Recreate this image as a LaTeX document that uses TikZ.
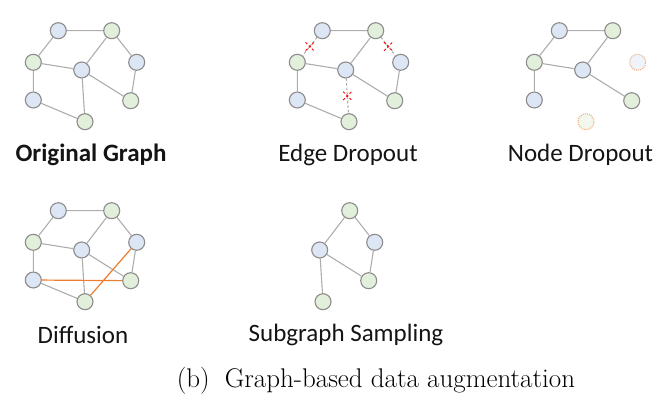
\documentclass[tikz,border=0pt]{standalone}
\usepackage{fontspec}
\newfontfamily\lblfont{Carlito}
\usepackage{tikz}
\usetikzlibrary{shapes.misc}

\definecolor{nodeblue}{HTML}{DCE6F4}
\definecolor{nodegreen}{HTML}{E2EFDA}
\definecolor{ringgray}{HTML}{8C8C8C}
\definecolor{edgegray}{HTML}{ADADAD}
\definecolor{diffuse}{HTML}{ED7D31}
\definecolor{lostring}{HTML}{F4B183}

\tikzset{
  vtx/.style={circle, draw=ringgray, line width=1.1pt, minimum size=16pt, inner sep=0pt},
  bvtx/.style={vtx, fill=nodeblue},
  gvtx/.style={vtx, fill=nodegreen},
  lostb/.style={vtx, draw=lostring, densely dotted, fill=nodeblue!45},
  lostg/.style={vtx, draw=lostring, densely dotted, fill=nodegreen!45},
  link/.style={draw=edgegray, line width=1.1pt},
  droplink/.style={link, dash pattern=on 2.5pt off 2pt},
  newlink/.style={draw=diffuse, line width=1.2pt},
  cut/.style={cross out, draw=red, line width=0.9pt, minimum size=7.5pt, inner sep=0pt},
  lbl/.style={text=black!92, font=\lblfont\fontsize{25}{30}\selectfont}
}

\begin{document}
\begin{tikzpicture}[x=1pt, y=-1pt]
\useasboundingbox (0,0) rectangle (670,414);

% original graph
\begin{scope}[name prefix=o-]
\node[bvtx] (a) at (58.3,30.7) {};
\node[gvtx] (b) at (111.7,30.7) {};
\node[gvtx] (c) at (33.3,62.3) {};
\node[bvtx] (d) at (81.7,70) {};
\node[bvtx] (e) at (136.7,62.3) {};
\node[bvtx] (f) at (33.3,100) {};
\node[gvtx] (g) at (130.7,100.7) {};
\node[gvtx] (h) at (85,121.7) {};
\draw[link] (a) -- (b) (a) -- (c) (b) -- (d) (b) -- (e) (c) -- (d)
  (c) -- (f) (d) -- (g) (d) -- (h) (e) -- (g) (f) -- (h);
\node[lbl, font=\lblfont\bfseries\fontsize{25}{30}\selectfont] (name) at (91,155) {Original Graph};
\end{scope}

% edge dropout
\begin{scope}[shift={(264,0)}, name prefix=e-]
\node[bvtx] (a) at (58.3,30.7) {};
\node[gvtx] (b) at (111.7,30.7) {};
\node[gvtx] (c) at (33.3,62.3) {};
\node[bvtx] (d) at (81.7,70) {};
\node[bvtx] (e) at (136.7,62.3) {};
\node[bvtx] (f) at (33.3,100) {};
\node[gvtx] (g) at (130.7,100.7) {};
\node[gvtx] (h) at (85,121.7) {};
\draw[link] (a) -- (b) (b) -- (d) (c) -- (d) (c) -- (f) (d) -- (g) (e) -- (g) (f) -- (h);
\draw[droplink] (a) -- node[cut] (x1) {} (c);
\draw[droplink] (b) -- node[cut] (x2) {} (e);
\draw[droplink] (d) -- node[cut] (x3) {} (h);
\node[lbl] (name) at (84,155) {Edge Dropout};
\end{scope}

% node dropout
\begin{scope}[shift={(501,0)}, name prefix=n-]
\node[bvtx] (a) at (58.3,30.7) {};
\node[gvtx] (b) at (111.7,30.7) {};
\node[gvtx] (c) at (33.3,62.3) {};
\node[bvtx] (d) at (81.7,70) {};
\node[lostb] (e) at (136.7,62.3) {};
\node[bvtx] (f) at (33.3,100) {};
\node[gvtx] (g) at (130.7,100.7) {};
\node[lostg] (h) at (85,121.7) {};
\draw[link] (a) -- (b) (a) -- (c) (b) -- (d) (c) -- (d) (c) -- (f) (d) -- (g);
\node[lbl] (name) at (79.5,155) {Node Dropout};
\end{scope}

% diffusion
\begin{scope}[shift={(0,180)}, name prefix=d-]
\node[bvtx] (a) at (58.3,30.7) {};
\node[gvtx] (b) at (111.7,30.7) {};
\node[gvtx] (c) at (33.3,62.3) {};
\node[bvtx] (d) at (81.7,70) {};
\node[bvtx] (e) at (136.7,62.3) {};
\node[bvtx] (f) at (33.3,100) {};
\node[gvtx] (g) at (130.7,100.7) {};
\node[gvtx] (h) at (85,121.7) {};
\draw[link] (a) -- (b) (a) -- (c) (b) -- (d) (b) -- (e) (c) -- (d)
  (c) -- (f) (d) -- (g) (d) -- (h) (e) -- (g) (f) -- (h);
\draw[newlink] (f) -- (g) (h) -- (e);
\node[lbl] (name) at (83,155) {Diffusion};
\end{scope}

% subgraph sampling
\begin{scope}[shift={(238,180)}, name prefix=s-]
\node[gvtx] (b) at (111.7,30.7) {};
\node[bvtx] (d) at (81.7,70) {};
\node[bvtx] (e) at (136.7,62.3) {};
\node[gvtx] (g) at (130.7,100.7) {};
\node[gvtx] (h) at (85,121.7) {};
\draw[link] (b) -- (d) (b) -- (e) (d) -- (g) (d) -- (h) (e) -- (g);
\node[lbl] (name) at (108,155) {Subgraph Sampling};
\end{scope}

\node[font=\fontsize{27}{32}\selectfont] (caption) at (376,381) {(b)\hspace{15pt}Graph-based data augmentation};
\end{tikzpicture}
\end{document}
